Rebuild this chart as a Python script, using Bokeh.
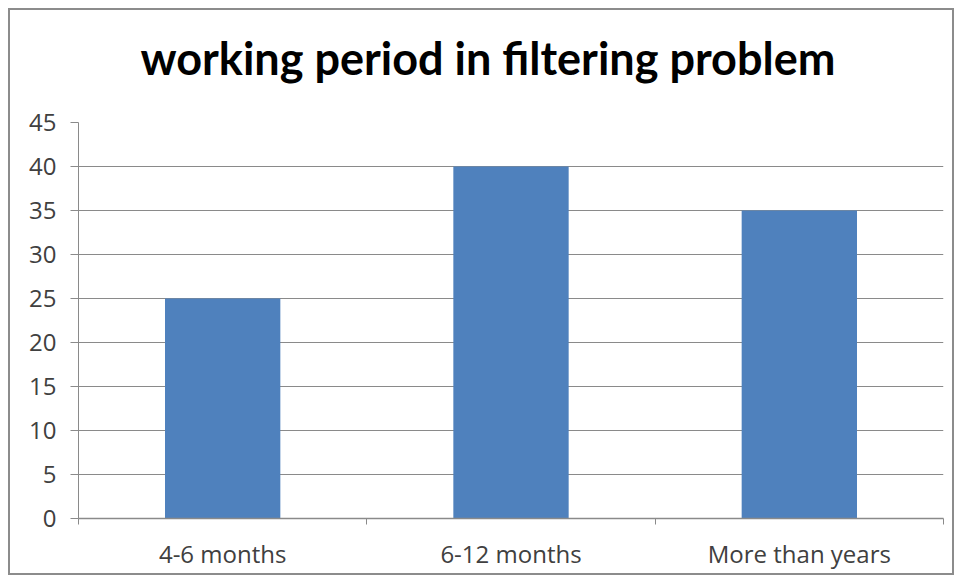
from bokeh.plotting import figure
from bokeh.models import Range1d, FixedTicker, Title, ColumnDataSource
from bokeh.embed import file_html
from bokeh.resources import INLINE

categories = ["4-6 months", "6-12 months", "More than years"]
values = [25, 40, 35]
y_ticks = [0, 5, 10, 15, 20, 25, 30, 35, 40, 45]
title_text = "working period in filtering problem"

centers = [i + 0.5 for i in range(len(categories))]
bounds = [i for i in range(len(categories) + 1)]

src = ColumnDataSource(dict(x=centers, top=values, cat=categories))

p = figure(width=946, height=567, output_backend="svg", toolbar_location=None,
           x_range=Range1d(0, len(categories)), y_range=Range1d(0, max(y_ticks)),
           min_border_left=68, min_border_right=13, min_border_top=112, min_border_bottom=59)
p.styles = {"border": "2px solid #8c8c8c", "margin-left": "8px", "margin-top": "8px"}
p.title = None

spacer = Title(text=" ", text_font_size="10px", standoff=25)
p.add_layout(spacer, "above")
t = Title(text=title_text, align="left", offset=62, text_font="Lato", text_font_size="45px",
          text_font_style="bold", text_color="#000000", vertical_align="bottom", standoff=0)
p.add_layout(t, "above")

p.vbar(x="x", top="top", width=0.4, source=src, fill_color="#4F81BD", line_color=None)

p.outline_line_color = None
p.xgrid.grid_line_color = None
p.ygrid.grid_line_color = "#8a8a8a"
p.ygrid.grid_line_width = 1
p.ygrid.ticker = FixedTicker(ticks=y_ticks)

ya = p.yaxis[0]
ya.ticker = FixedTicker(ticks=y_ticks)
ya.axis_line_color = "#8a8a8a"
ya.major_tick_line_color = "#8a8a8a"
ya.major_tick_out = 8
ya.major_tick_in = 0
ya.minor_tick_line_color = None
ya.major_label_text_font = "Open Sans"
ya.major_label_text_font_size = "24px"
ya.major_label_text_color = "#404040"
ya.major_label_standoff = 14

xa = p.xaxis[0]
xa.ticker = FixedTicker(ticks=centers, minor_ticks=bounds)
xa.major_label_overrides = {c: lab for c, lab in zip(centers, categories)}
xa.axis_line_color = "#8a8a8a"
xa.axis_line_width = 1.5
xa.major_tick_line_color = None
xa.minor_tick_line_color = "#8a8a8a"
xa.minor_tick_out = 6
xa.minor_tick_in = 0
xa.major_label_text_font = "Open Sans"
xa.major_label_text_font_size = "24px"
xa.major_label_text_color = "#404040"
xa.major_label_standoff = 12

open("out.html", "w").write(file_html(p, INLINE))
